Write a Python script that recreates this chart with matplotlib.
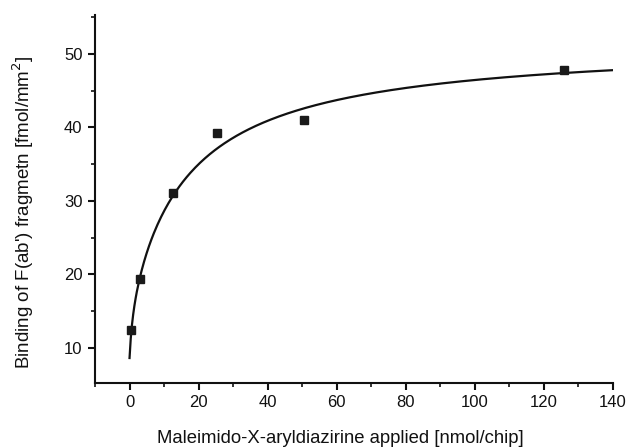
import numpy as np
import matplotlib
matplotlib.use("Agg")
import matplotlib.pyplot as plt
from matplotlib.ticker import MultipleLocator

plt.rcParams['font.family'] = ['Liberation Sans', 'DejaVu Sans']

# measured points
applied = [0.4, 2.9, 12.6, 25.2, 50.5, 125.8]
binding = [12.4, 19.3, 31.1, 39.3, 41.0, 47.8]

# two-site saturation fit (offset + high and low affinity terms)
fit_offset = 8.6
fit_b1, fit_k1 = 7.5, 1.0
fit_b2, fit_k2 = 35.6, 17.0
fit_xmax = 140.6

x_fit = np.linspace(0, fit_xmax, 400)
y_fit = (fit_offset + fit_b1 * x_fit / (fit_k1 + x_fit)
         + fit_b2 * x_fit / (fit_k2 + x_fit))

fig = plt.figure(figsize=(6.3, 4.48), dpi=100)
ax = fig.add_axes([0.1508, 0.1451, 0.8222, 0.8214])

ax.plot(x_fit, y_fit, color='#111111', lw=1.6, zorder=2)
ax.plot(applied, binding, 's', color='#1a1a1a', markersize=6.2, zorder=3)

ax.set_xlim(-10, 140)
ax.set_ylim(5.2, 55.3)
ax.set_xticks(range(0, 141, 20))
ax.set_yticks(range(10, 51, 10))
ax.xaxis.set_minor_locator(MultipleLocator(10))
ax.yaxis.set_minor_locator(MultipleLocator(5))

for side in ['top', 'right']:
    ax.spines[side].set_visible(False)
for side in ['left', 'bottom']:
    ax.spines[side].set_linewidth(1.5)
    ax.spines[side].set_color('#111111')

ax.tick_params(which='major', direction='out', length=5, width=1.5,
               labelsize=12, pad=4, colors='#111111')
ax.tick_params(which='minor', direction='out', length=3, width=1.2,
               colors='#111111')

ax.set_xlabel('Maleimido-X-aryldiazirine applied [nmol/chip]', fontsize=13.3,
              labelpad=14, color='#111111', x=0.473)
ax.set_ylabel("Binding of F(ab') fragmetn [fmol/mm$^2$]", fontsize=13.5,
              labelpad=20, color='#111111', y=0.465)

fig.savefig('out.png', dpi=100)
